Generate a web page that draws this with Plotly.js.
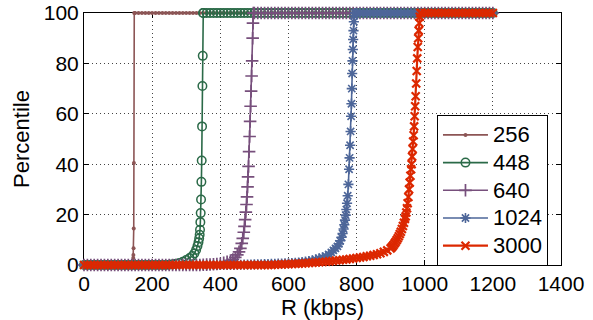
<!DOCTYPE html>
<html>
<head>
<meta charset="utf-8">
<script src="https://cdn.plot.ly/plotly-3.0.1.min.js"></script>
<style>html,body{margin:0;padding:0;background:#fff;}#chart{width:593px;height:320px;}</style>
</head>
<body>
<div id="chart"></div>
<script>
// Shared rate grid (kbps)
const R = [
  0,10,20,30,40,50,60,70,80,90,
  100,110,120,130,140,150,160,170,180,190,
  200,210,220,230,240,250,260,270,280,290,
  300,310,320,330,340,350,360,370,380,390,
  400,410,420,430,440,450,460,470,480,490,
  500,510,520,530,540,550,560,570,580,590,
  600,610,620,630,640,650,660,670,680,690,
  700,710,720,730,740,750,760,770,780,790,
  800,810,820,830,840,850,860,870,880,890,
  900,910,920,930,940,950,960,970,980,990,
  1000,1010,1020,1030,1040,1050,1060,1070,1080,1090,
  1100,1110,1120,1130,1140,1150,1160,1170,1180,1190,
  1200
];

const seriesNames = ["256","448","640","1024","3000"];

// Percentile on the grid, per series
const y256 = [
  0,0,0,0,0,0,0,0,0,0,
  0,0,0,0,0,100,100,100,100,100,
  100,100,100,100,100,100,100,100,100,100,
  100,100,100,100,100,100,100,100,100,100,
  100,100,100,100,100,100,100,100,100,100,
  100,100,100,100,100,100,100,100,100,100,
  100,100,100,100,100,100,100,100,100,100,
  100,100,100,100,100,100,100,100,100,100,
  100,100,100,100,100,100,100,100,100,100,
  100,100,100,100,100,100,100,100,100,100,
  100,100,100,100,100,100,100,100,100,100,
  100,100,100,100,100,100,100,100,100,100,
  100
];
const y448 = [
  0,0,0,0,0,0,0,0,0,0,
  0,0,0,0,0,0,0,0,0,0,
  0,0,0,0,0,0.1,0.3,0.5,0.8,1.3,
  2.0,2.8,4,6.5,12,100,100,100,100,100,
  100,100,100,100,100,100,100,100,100,100,
  100,100,100,100,100,100,100,100,100,100,
  100,100,100,100,100,100,100,100,100,100,
  100,100,100,100,100,100,100,100,100,100,
  100,100,100,100,100,100,100,100,100,100,
  100,100,100,100,100,100,100,100,100,100,
  100,100,100,100,100,100,100,100,100,100,
  100,100,100,100,100,100,100,100,100,100,
  100
];
const y640 = [
  0,0,0,0,0,0,0,0,0,0,
  0,0,0,0,0,0,0,0,0,0,
  0,0,0,0,0,0,0,0,0,0,
  0,0,0,0,0,0.1,0.15,0.2,0.3,0.4,
  0.5,0.9,1.3,1.8,2.5,3.8,6.8,14,28,66,
  100,100,100,100,100,100,100,100,100,100,
  100,100,100,100,100,100,100,100,100,100,
  100,100,100,100,100,100,100,100,100,100,
  100,100,100,100,100,100,100,100,100,100,
  100,100,100,100,100,100,100,100,100,100,
  100,100,100,100,100,100,100,100,100,100,
  100,100,100,100,100,100,100,100,100,100,
  100
];
const y1024 = [
  0,0,0,0,0,0,0,0,0,0,
  0,0,0,0,0,0,0,0,0,0,
  0,0,0,0,0,0,0,0,0,0,
  0,0,0,0,0,0,0,0,0,0,
  0,0,0,0,0,0.1,0.1,0.15,0.2,0.2,
  0.25,0.3,0.3,0.35,0.4,0.45,0.5,0.55,0.6,0.65,
  0.7,0.8,0.9,1.0,1.2,1.3,1.5,1.8,2.2,2.6,
  3,3.5,4.3,5.4,6.8,8.8,12.5,21,39,85,
  100,100,100,100,100,100,100,100,100,100,
  100,100,100,100,100,100,100,100,100,100,
  100,100,100,100,100,100,100,100,100,100,
  100,100,100,100,100,100,100,100,100,100,
  100
];
const y3000 = [
  0,0,0,0,0,0,0,0,0,0,
  0,0,0,0,0,0,0,0,0,0,
  0,0,0,0,0,0,0,0,0,0,
  0,0,0,0,0,0,0,0,0,0,
  0,0,0,0,0,0,0,0,0,0,
  0,0,0,0,0,0,0.1,0.2,0.25,0.3,
  0.35,0.4,0.5,0.55,0.6,0.7,0.8,0.9,1.0,1.1,
  1.2,1.3,1.45,1.6,1.75,1.9,2.05,2.2,2.4,2.6,
  2.8,3.0,3.2,3.45,3.7,4.0,4.3,4.7,5.2,5.8,
  6.6,7.8,10.5,13,17.2,24,38,57,87,100,
  100,100,100,100,100,100,100,100,100,100,
  100,100,100,100,100,100,100,100,100,100,
  100
];

// Finer readings across each steep rise
const x256d = [143,144,144.5,145,145.5,146,146.5,147.5];
const y256d = [0,1,2.8,4,6.6,14.5,40.5,100];

const x448d = [280,290,300,310,318,324,329,333,336,338,339.5,340.5,341.5,342.5,343.5,344.5,345.5,346.5,347.5,348.5,349.5];
const y448d = [0.8,1.3,2.0,2.8,3.6,4.6,6,7.5,9,10.5,12,14,17,20.6,26,33,41.5,55,71,83,100];

const x640d = [400,410,420,430,437,444,450,455,459,463,466,469,471,473,475,477,478.5,480,481.5,483,484.5,486,487.5,489,490.5,492,493.5,495,496,497];
const y640d = [0.5,0.9,1.3,1.8,2.2,3.0,4.0,5.2,6.6,8.6,10.6,13,15.3,18,21,24,27,31,35,39.1,45,51,57,63,69,75,81,90,96,100];

const x1024d = [600,610,620,630,640,650,660,670,680,690,700,710,718,726,732,738,744,748,752,756,759,762,764,766,768,770,772,774,776,778,779.5,781,782.5,784,785,786,787,788,789,790,791,792,793.5,795];
const y1024d = [0.7,0.8,0.9,1.0,1.2,1.3,1.5,1.8,2.2,2.6,3.0,3.5,4.2,5.0,5.8,6.6,7.4,8.4,9.6,11,12.5,14.3,16,17.8,19.8,22,24.5,27.5,32,38,42.5,47.5,53,59,64,70,76,81,85.5,89.5,93,96.5,99,100];

const x3000d = [900,903,906,909,912,915,918,921,924,927,930,933,936,939,942,944,946,948,950,952,954,956,958,960,961.5,963,964.5,966,967.5,969,970.5,972,973.5,975,976.5,978,979.5,981,982.5,984,985.5,987];
const y3000d = [6.6,7.0,7.5,8.0,8.6,9.2,9.9,10.6,11.4,12.3,13.2,14.3,15.5,16.8,18.3,19.3,20.8,22.5,24.5,27,30,32.7,35.4,38,40,43,46,49,51.5,55,59,63,67,72,77,82,86.5,90,93,96,98.5,100];

function merge(gy, dx, dy) {
  const lo = dx[0], hi = dx[dx.length - 1];
  const xs = [], ys = [];
  for (let i = 0; i < R.length; i++) if (R[i] < lo) { xs.push(R[i]); ys.push(gy[i]); }
  for (let i = 0; i < dx.length; i++) { xs.push(dx[i]); ys.push(dy[i]); }
  for (let i = 0; i < R.length; i++) if (R[i] > hi) { xs.push(R[i]); ys.push(gy[i]); }
  return [xs, ys];
}

const styles = [
  {color: "#8c5555", symbol: "circle", size: 4, lw: 0, w: 1.6},
  {color: "#2b6a48", symbol: "circle-open", size: 8.5, lw: 1.5, w: 1.6},
  {color: "#774f7c", symbol: "cross-thin-open", size: 9, lw: 1.7, w: 1.6},
  {color: "#4d6699", symbol: "asterisk-open", size: 8.5, lw: 1.6, w: 1.6},
  {color: "#dc2800", symbol: "x-thin-open", size: 8, lw: 2.2, w: 2.2}
];
const data = [[y256,x256d,y256d],[y448,x448d,y448d],[y640,x640d,y640d],[y1024,x1024d,y1024d],[y3000,x3000d,y3000d]];

const traces = data.map((d, k) => {
  const [xs, ys] = merge(d[0], d[1], d[2]);
  const s = styles[k];
  return {
    x: xs, y: ys,
    name: '<span style="font-size:22px">' + seriesNames[k] + '</span>',
    type: "scatter", mode: "lines+markers",
    cliponaxis: false,
    line: {color: s.color, width: s.w},
    marker: {symbol: s.symbol, size: s.size, color: s.color, line: {color: s.color, width: s.lw}}
  };
});

const font = {family: "Liberation Sans, Arial, sans-serif", color: "#000"};
const axisCommon = {
  showline: true, linecolor: "#000", linewidth: 1, mirror: "ticks",
  ticks: "inside", ticklen: 5, tickwidth: 1, tickcolor: "#000",
  showgrid: true, gridcolor: "#444", gridwidth: 1, griddash: "1px,3px",
  zeroline: false, layer: "below traces",
  tickfont: {family: font.family, size: 21, color: "#000"}
};

const layout = {
  width: 593, height: 320,
  margin: {l: 84, r: 32, t: 13, b: 55},
  paper_bgcolor: "#fff", plot_bgcolor: "#fff",
  font: font,
  showlegend: true,
  xaxis: Object.assign({}, axisCommon, {
    range: [0, 1400], tickvals: [0,200,400,600,800,1000,1200,1400],
    title: {text: "R (kbps)", font: {family: font.family, size: 22, color: "#000"}, standoff: 4}
  }),
  yaxis: Object.assign({}, axisCommon, {
    range: [0, 100], tickvals: [0,20,40,60,80,100],
    title: {text: "Percentile", font: {family: font.family, size: 22, color: "#000"}, standoff: 8}
  }),
  legend: {
    x: 0.74, y: 0.595, xanchor: "left", yanchor: "top",
    bgcolor: "#fff", bordercolor: "#000", borderwidth: 1,
    font: {family: font.family, size: 19, color: "#000"},
    itemwidth: 45, tracegroupgap: 0
  }
};

Plotly.newPlot("chart", traces, layout, {staticPlot: true, displayModeBar: false});
</script>
</body>
</html>
